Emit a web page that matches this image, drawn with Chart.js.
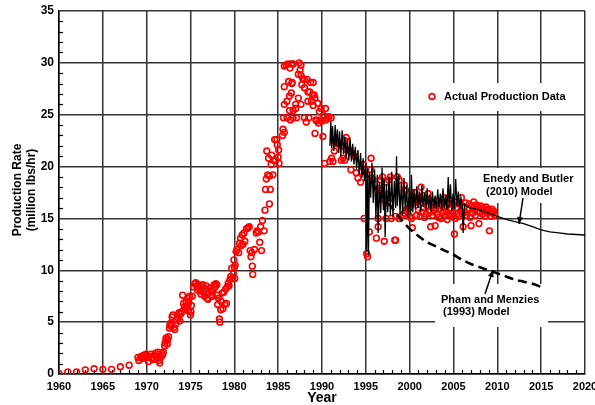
<!DOCTYPE html>
<html>
<head>
<meta charset="utf-8">
<script src="https://cdn.jsdelivr.net/npm/chart.js@4.4.1/dist/chart.umd.min.js"></script>
<style>
  html,body{margin:0;padding:0;background:#fff;}
  #wrap{width:595px;height:405px;position:relative;}
</style>
</head>
<body>
<div id="wrap"><canvas id="c" width="595" height="405"></canvas></div>
<script>
// ---------- DATA ----------
const xTickLabels = [1960,1965,1970,1975,1980,1985,1990,1995,2000,2005,2010,2015,2020];
const yTickLabels = [0,5,10,15,20,25,30,35];

// Actual production data [year, million lbs/hr]
const prod1960s = [
  [1960,0.05],[1961,0.2],[1962,0.2],[1963,0.4],[1964,0.5],[1965,0.45],[1966,0.45],[1967,0.7],[1968,0.85],
  [1969.0,1.6],[1969.1,1.3],[1969.3,1.6],[1969.4,1.7],[1969.5,1.5],[1969.6,1.8],[1969.75,1.7],[1969.9,1.9]
];
const prod1970s = [
  [1970.0,1.8],[1970.1,1.6],[1970.2,1.2],[1970.3,1.7],[1970.45,1.9],[1970.55,1.5],[1970.7,1.6],[1970.8,1.4],[1970.9,1.8],
  [1971.0,2.0],[1971.1,1.7],[1971.2,1.5],[1971.3,2.1],[1971.4,1.3],[1971.5,1.05],[1971.6,1.6],[1971.7,2.0],[1971.8,1.8],[1971.9,2.1],
  [1972.05,2.7],[1972.1,3.0],[1972.2,3.4],[1972.25,3.5],[1972.35,2.9],[1972.4,3.3],[1972.5,3.6],[1972.6,4.4],[1972.65,4.7],
  [1972.75,4.9],[1972.8,4.6],[1972.9,5.5],[1973.0,5.7],[1973.1,4.5],[1973.2,4.3],[1973.3,4.8],[1973.4,5.2],[1973.5,5.7],
  [1973.6,5.4],[1973.7,5.9],[1973.8,5.1],[1973.9,5.8],[1974.0,6.0],[1974.1,7.6],[1974.2,6.8],[1974.3,6.5],[1974.4,6.2],
  [1974.5,7.0],[1974.55,6.4],[1974.6,6.6],[1974.7,7.3],[1974.75,6.1],[1974.8,6.9],[1974.9,7.5],[1975.0,5.7],[1975.05,6.0],
  [1975.1,6.6],[1975.2,7.5],[1975.35,8.4],[1975.5,8.7],[1975.6,8.8],[1975.7,8.5],[1975.8,8.1],[1975.9,8.6],[1976.0,8.3],
  [1976.1,8.0],[1976.2,7.7],[1976.3,8.4],[1976.4,8.6],[1976.5,7.9],[1976.6,7.5],[1976.7,8.2],[1976.8,8.5],[1976.9,7.3],
  [1977.0,7.2],[1977.1,7.8],[1977.2,8.3],[1977.3,7.6],[1977.4,8.0],[1977.5,7.5],[1977.6,8.2],[1977.7,8.6],[1977.8,8.4],
  [1977.9,8.7],[1978.0,8.6],[1978.05,7.6],[1978.1,6.7],[1978.2,7.3],[1978.3,5.3],[1978.35,5.0],[1978.45,6.2],[1978.5,7.0],
  [1978.6,7.8],[1978.7,6.3],[1978.8,7.9],[1978.9,6.7],[1979.0,8.2],[1979.1,6.8],[1979.2,8.4],[1979.3,8.75],[1979.4,8.5],
  [1979.5,9.1],[1979.6,9.4],[1979.7,10.2],[1979.8,9.2],[1979.9,9.7],[1979.95,11.0]
];
const prod1980s = [
  [1980.0,10.3],[1980.05,9.2],[1980.1,10.5],[1980.2,11.8],[1980.3,12.0],[1980.5,11.7],[1980.6,12.6],[1980.7,13.1],[1980.8,12.4],
  [1980.9,13.4],[1981.0,12.5],[1981.1,13.6],[1981.2,12.8],[1981.4,14.0],[1981.55,14.1],[1981.7,14.2],[1981.8,11.9],
  [1981.9,11.3],[1982.0,11.7],[1982.05,10.4],[1982.1,9.6],[1982.3,12.0],[1982.5,13.6],[1982.6,13.8],[1982.75,13.7],
  [1982.9,12.7],[1983.0,14.2],[1983.1,11.9],[1983.2,14.8],[1983.4,13.8],[1983.5,15.8],[1983.55,17.8],[1983.65,18.8],
  [1983.7,21.5],[1983.8,19.2],[1983.9,20.8],[1984.0,16.4],[1984.0,19.1],[1984.1,17.8],[1984.2,20.2],[1984.25,21.1],
  [1984.4,19.2],[1984.45,20.6],[1984.6,22.6],[1984.7,20.6],[1984.85,22.6],[1984.9,22.1],[1985.0,20.9],[1985.05,21.6],
  [1985.1,20.3],[1985.5,23.0],[1985.55,23.6],[1985.6,24.7],[1985.7,23.3],[1985.7,26.0],[1985.7,27.7],[1985.7,29.7],
  [1985.9,29.8],[1986.0,26.3],[1986.0,24.7],[1986.1,29.9],[1986.2,28.2],[1986.3,26.8],[1986.3,25.4],[1986.35,29.5],
  [1986.4,24.5],[1986.5,27.1],[1986.5,29.9],[1986.55,28.0],[1986.6,28.1],[1986.7,25.4],[1986.7,29.9],[1986.7,24.7],
  [1987.0,25.6],[1987.0,26.0],[1987.1,24.7],[1987.3,26.6],[1987.3,28.9],[1987.4,30.0],[1987.5,29.3],[1987.6,29.8],
  [1987.6,26.0],[1987.6,28.8],[1987.7,27.9],[1987.8,28.5],[1988.0,28.4],[1988.0,27.6],[1988.0,24.7],[1988.2,24.3],
  [1988.3,28.4],[1988.4,27.2],[1988.4,26.3],[1988.5,24.7],[1988.6,27.2],[1988.7,28.1],[1988.8,26.3],[1988.9,26.9],
  [1989.0,28.1],[1989.0,25.9],[1989.1,26.9],[1989.2,23.2],[1989.2,26.6],[1989.3,24.5],[1989.4,24.4],[1989.5,26.1],
  [1989.6,24.2],[1989.7,25.3],[1989.8,24.5],[1989.9,25.6]
];
const prod1990s = [
  [1990.0,24.4],[1990.1,22.9],[1990.2,24.9],[1990.3,20.3],[1990.4,25.6],[1990.45,24.5],[1990.6,24.7],[1990.8,24.8],
  [1990.9,20.5],[1991.05,24.7],[1991.1,20.8],[1991.25,20.5],[1991.4,21.5],[1991.6,22.3],[1991.8,22.2],[1992.0,22.3],
  [1992.2,20.6],[1992.4,20.8],[1992.4,22.0],[1992.6,20.6],[1992.6,22.5],[1992.75,22.8],[1992.8,21.6],[1993.2,21.5],
  [1993.3,19.7],[1993.4,21.3],[1993.7,21.0],[1993.9,19.4],[1994.1,18.9],[1994.4,18.5],[1994.5,19.5],[1994.7,20.2],
  [1994.8,15.0],[1994.9,19.7],[1995.1,11.6],[1995.2,11.3],[1995.4,13.7],[1995.6,20.8],[1995.6,19.7],[1995.7,18.9],
  [1995.8,18.7],[1996.2,13.1],[1996.4,14.2],[1996.4,15.0],[1996.5,17.9],[1996.7,17.7],[1996.7,18.7],[1996.9,19.0],
  [1997.1,12.8],[1997.1,16.8],[1997.3,18.5],[1997.3,15.0],[1997.5,17.3],[1997.6,18.7],[1997.8,17.0],[1997.8,19.0],
  [1997.9,15.0],[1998.3,12.9],[1998.4,12.9],[1998.4,15.2],[1998.6,19.0],[1998.8,18.7],[1998.8,15.0],[1999.2,15.3],
  [1999.4,18.2],[1999.4,15.5],[1999.5,17.7],[1999.6,15.8],[1999.95,16.0]
];
const prod2000s = [
  [2000.0,15.2],[2000.1,16.2],[2000.2,15.0],[2000.3,14.1],[2000.4,16.8],[2000.5,16.5],[2000.6,17.5],[2000.7,17.0],
  [2000.8,15.3],[2000.9,16.6],[2001.0,15.8],[2001.1,16.9],[2001.2,15.2],[2001.3,18.0],[2001.4,15.6],[2001.5,17.2],
  [2001.6,16.0],[2001.7,15.1],[2001.8,16.6],[2001.9,15.4],[2002.0,16.2],[2002.1,17.4],[2002.2,16.8],[2002.3,15.6],
  [2002.4,14.2],[2002.5,16.1],[2002.6,15.3],[2002.7,16.5],[2002.8,15.8],[2002.9,14.3],[2003.0,16.0],[2003.1,15.4],
  [2003.2,16.7],[2003.3,15.1],[2003.4,15.9],[2003.5,16.4],[2003.6,15.0],[2003.7,16.2],[2003.8,15.6],[2003.9,17.0],
  [2004.0,15.3],[2004.1,16.1],[2004.2,15.7],[2004.3,14.9],[2004.4,16.5],[2004.5,15.4],[2004.6,16.0],[2004.7,15.2],
  [2004.8,16.7],[2004.9,15.5],[2005.0,16.3],[2005.1,13.5],[2005.2,15.0],[2005.3,16.6],[2005.4,15.4],[2005.5,16.0],
  [2005.6,15.2],[2005.7,16.4],[2005.8,15.7],[2005.9,17.0],[2006.0,15.4],[2006.1,14.2],[2006.2,16.1],[2006.3,15.6],
  [2006.4,16.5],[2006.5,15.3],[2006.6,16.0],[2006.7,15.8],[2006.8,16.4],[2006.9,15.1],[2007.0,14.3],[2007.1,16.2],
  [2007.2,15.5],[2007.3,16.6],[2007.4,15.9],[2007.5,15.3],[2007.6,16.3],[2007.7,15.7],[2007.8,16.1],[2007.9,14.5],
  [2008.0,15.6],[2008.1,16.2],[2008.2,15.9],[2008.3,15.4],[2008.4,16.0],[2008.5,15.7],[2008.6,15.2],[2008.7,16.1],
  [2008.8,15.8],[2008.9,15.5],[2009.0,15.9],[2009.1,13.8],[2009.2,15.6],[2009.3,15.2],[2009.4,15.9],[2009.5,15.5],
  [2009.6,15.7],[2009.7,15.3]
];

// Enedy and Butler (2010) model
const enedyModel = [
  [1990.9,22.0],[1991.0,24.4],[1991.1,21.8],[1991.2,23.9],[1991.35,21.5],[1991.5,24.0],[1991.6,22.0],[1991.75,23.6],
  [1991.9,21.3],[1992.0,23.4],[1992.15,21.0],[1992.3,23.5],[1992.45,21.2],[1992.6,22.9],[1992.75,20.8],[1992.9,22.7],
  [1993.05,20.6],[1993.2,22.8],[1993.35,20.5],[1993.5,22.2],[1993.65,20.2],[1993.8,21.9],[1993.95,19.8],[1994.1,21.6],
  [1994.25,19.3],[1994.4,21.3],[1994.55,18.9],[1994.7,20.8],[1994.85,18.6],[1995.0,20.3],[1995.1,11.8],[1995.2,19.8],
  [1995.3,11.5],[1995.4,19.5],[1995.55,17.0],[1995.7,20.4],[1995.85,16.5],[1996.0,19.7],[1996.15,15.0],[1996.3,19.2],
  [1996.4,13.6],[1996.55,18.5],[1996.7,15.5],[1996.85,19.9],[1997.0,15.8],[1997.1,18.8],[1997.2,13.2],[1997.35,18.3],
  [1997.5,15.6],[1997.65,19.0],[1997.8,15.3],[1997.95,19.5],[1998.1,15.2],[1998.25,18.6],[1998.4,16.0],[1998.5,21.0],
  [1998.6,16.2],[1998.75,19.2],[1998.9,15.4],[1999.05,18.5],[1999.2,15.3],[1999.35,18.9],[1999.5,15.7],[1999.65,18.2],
  [1999.8,15.1],[1999.95,18.0],[2000.1,15.4],[2000.2,19.2],[2000.35,15.6],[2000.5,17.8],[2000.65,15.9],[2000.8,18.1],
  [2000.95,16.0],[2001.1,17.6],[2001.25,15.7],[2001.4,18.2],[2001.55,16.1],[2001.7,17.5],[2001.85,15.8],[2002.0,17.9],
  [2002.15,16.0],[2002.3,17.3],[2002.45,15.6],[2002.6,17.6],[2002.75,16.0],[2002.9,17.2],[2003.05,15.8],[2003.2,17.8],
  [2003.35,16.1],[2003.5,17.4],[2003.65,15.7],[2003.8,17.9],[2003.95,16.0],[2004.1,17.3],[2004.25,15.8],[2004.4,19.0],
  [2004.5,16.0],[2004.65,18.3],[2004.8,15.6],[2004.95,17.4],[2005.1,15.9],[2005.25,18.8],[2005.4,16.2],[2005.55,17.6],
  [2005.7,15.8],[2005.85,17.0],[2006.0,16.2],[2006.1,13.6],[2006.25,16.4],[2006.5,16.2],[2007,16.0],[2008,15.8],
  [2009,15.5],[2010,15.2],[2011,14.9],[2012,14.7],[2013,14.5],[2014,14.2],[2015,13.9],[2016,13.7],[2017,13.6],
  [2018,13.5],[2019,13.45],[2020,13.4]
];

// Pham and Menzies (1993) model
const phamModel = [
  [1994.5,19.5],[1995.5,18.8],[1996,18.0],[1997,17.0],[1998,16.0],[1999,14.9],[2000,14.0],[2001,13.3],[2002,12.7],
  [2003,12.3],[2004,11.9],[2005,11.5],[2006,11.0],[2007,10.6],[2008,10.3],[2009,10.0],[2010,9.7],[2011,9.4],
  [2012,9.1],[2013,8.9],[2014,8.7],[2015,8.4]
];

// ---------- CHART ----------
const FONT = '"Liberation Sans", Arial, Helvetica, sans-serif';
const toXY = arr => arr.map(([x, y]) => ({x, y}));
const actual = [].concat(prod1960s, prod1970s, prod1980s, prod1990s, prod2000s);

const decorPlugin = {
  id: 'decor',
  beforeDatasetsDraw(chart) {
    const ctx = chart.ctx, a = chart.chartArea;
    const xs = chart.scales.x, ys = chart.scales.y;
    ctx.save();
    // minor ticks (inward)
    ctx.strokeStyle = '#000'; ctx.lineWidth = 1.2;
    for (let v = 1; v < 35; v++) {
      if (v % 5 === 0) continue;
      const py = Math.round(ys.getPixelForValue(v)) + 0.5;
      ctx.beginPath(); ctx.moveTo(a.left, py); ctx.lineTo(a.left + 4, py); ctx.stroke();
    }
    for (let v = 1961; v < 2020; v++) {
      if (v % 5 === 0) continue;
      const px = Math.round(xs.getPixelForValue(v)) + 0.5;
      ctx.beginPath(); ctx.moveTo(px, a.bottom); ctx.lineTo(px, a.bottom - 4); ctx.stroke();
    }
    // white label boxes covering the grid
    ctx.fillStyle = '#fff';
    ctx.fillRect(419, 83, 163, 28);
    ctx.fillRect(475, 168, 108, 35);
    ctx.fillRect(435, 284, 113, 43);
    ctx.restore();
  },
  afterDatasetsDraw(chart) {
    const ctx = chart.ctx;
    ctx.save();
    ctx.fillStyle = '#000';
    ctx.textBaseline = 'middle';
    // legend
    ctx.beginPath();
    ctx.strokeStyle = '#ff0000'; ctx.lineWidth = 1.6;
    ctx.arc(432, 96.5, 2.9, 0, Math.PI * 2); ctx.stroke();
    ctx.font = 'bold 11px ' + FONT;
    ctx.textAlign = 'left';
    ctx.fillText('Actual Production Data', 444, 97);
    // Enedy label
    ctx.fillText('Enedy and Butler', 483, 178.5);
    ctx.fillText('(2010) Model', 486, 191.5);
    // Pham label
    ctx.fillText('Pham and Menzies', 441, 300);
    ctx.fillText('(1993) Model', 443, 312);
    // arrows
    const arrow = (x1, y1, x2, y2) => {
      ctx.strokeStyle = '#000'; ctx.lineWidth = 1.5;
      ctx.beginPath(); ctx.moveTo(x1, y1); ctx.lineTo(x2, y2); ctx.stroke();
      const ang = Math.atan2(y2 - y1, x2 - x1), L = 7, W = 3;
      ctx.beginPath();
      ctx.moveTo(x2, y2);
      ctx.lineTo(x2 - L * Math.cos(ang) + W * Math.sin(ang), y2 - L * Math.sin(ang) - W * Math.cos(ang));
      ctx.lineTo(x2 - L * Math.cos(ang) - W * Math.sin(ang), y2 - L * Math.sin(ang) + W * Math.cos(ang));
      ctx.closePath(); ctx.fill();
    };
    arrow(523, 198, 519, 224);
    arrow(485, 294, 493, 270);
    // axis titles
    ctx.textAlign = 'center';
    ctx.font = 'bold 14px ' + FONT;
    ctx.fillText('Year', 322, 398);
    ctx.font = 'bold 12px ' + FONT;
    ctx.translate(18, 190);
    ctx.rotate(-Math.PI / 2);
    ctx.fillText('Production Rate', 0, 0);
    ctx.fillText('(million lbs/hr)', 0, 13.5);
    ctx.restore();
  }
};

new Chart(document.getElementById('c'), {
  type: 'scatter',
  data: {
    datasets: [
      {
        label: 'Enedy and Butler (2010) Model',
        data: toXY(enedyModel),
        showLine: true, borderColor: '#000', borderWidth: 1.3,
        pointRadius: 0, tension: 0
      },
      {
        label: 'Pham and Menzies (1993) Model',
        data: toXY(phamModel),
        showLine: true, borderColor: '#000', borderWidth: 2.6, borderDash: [9, 5],
        pointRadius: 0, tension: 0.3
      },
      {
        label: 'Actual Production Data',
        data: toXY(actual),
        showLine: false, pointStyle: 'circle', pointRadius: 2.9,
        borderColor: '#ff0000', backgroundColor: 'rgba(255,255,255,0)', pointBorderWidth: 1.6
      }
    ]
  },
  options: {
    responsive: false, animation: false, events: [],
    layout: { padding: { top: 11, right: 10, left: 0, bottom: 0 } },
    plugins: { legend: { display: false }, tooltip: { enabled: false } },
    scales: {
      x: {
        type: 'linear', min: 1960, max: 2020,
        afterBuildTicks(s) { s.ticks = xTickLabels.map(v => ({value: v})); },
        afterFit(s) { s.height = 31; s.paddingLeft = 0; s.paddingRight = 0; },
        ticks: { color: '#000', font: { family: FONT, size: 11, weight: 'bold' }, padding: 6, maxRotation: 0, autoSkip: false,
                 callback: v => String(v) },
        grid: { color: '#333', lineWidth: 1.5, drawTicks: false },
        border: { display: true, color: '#000', width: 1.5 }
      },
      y: {
        type: 'linear', min: 0, max: 35,
        afterBuildTicks(s) { s.ticks = yTickLabels.map(v => ({value: v})); },
        afterFit(s) { s.width = 59; s.paddingTop = 0; s.paddingBottom = 0; },
        ticks: { color: '#000', font: { family: FONT, size: 12, weight: 'bold' }, padding: 5,
                 callback: v => String(v) },
        grid: { color: '#333', lineWidth: 1.5, drawTicks: false },
        border: { display: true, color: '#000', width: 1.5 }
      }
    }
  },
  plugins: [decorPlugin]
});
</script>
</body>
</html>
